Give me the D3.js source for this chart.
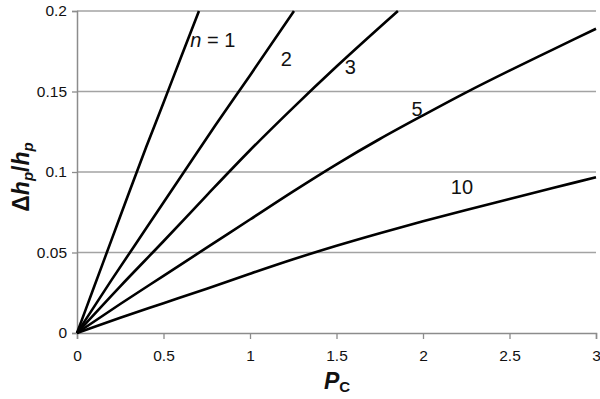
<!DOCTYPE html>
<html>
<head>
<meta charset="utf-8">
<script src="https://cdn.jsdelivr.net/npm/d3@7"></script>
<style>
  body { margin: 0; background: #fff; }
  svg { display: block; font-family: "Liberation Sans", Arial, sans-serif; }
</style>
</head>
<body>
<svg id="chart" width="600" height="399"></svg>
<script>
// values (P_C vs Δh_p/h_p)
const pN1 = [0, 0.1, 0.2, 0.3, 0.4, 0.5, 0.6, 0.705];
const vN1 = [0, 0.029, 0.058, 0.087, 0.1155, 0.143, 0.171, 0.2];

const pN2 = [0, 0.2, 0.4, 0.6, 0.8, 1.0, 1.254];
const vN2 = [0, 0.033, 0.065, 0.097, 0.129, 0.160, 0.2];

const pN3 = [0, 0.25, 0.5, 0.75, 1.0, 1.25, 1.5, 1.855];
const vN3 = [0, 0.029, 0.057, 0.0855, 0.1135, 0.140, 0.1655, 0.2];

const pGrid = [0, 0.25, 0.5, 0.75, 1.0, 1.25, 1.5, 1.75, 2.0, 2.25, 2.5, 2.75, 3.0];
const vN5 = [0, 0.018, 0.0355, 0.053, 0.0705, 0.088, 0.1048, 0.1205, 0.1352, 0.1495, 0.163, 0.176, 0.189];
const vN10 = [0, 0.0095, 0.0185, 0.0275, 0.0368, 0.0458, 0.0542, 0.062, 0.0694, 0.0764, 0.0832, 0.09, 0.0968];

const seriesNames = ['1', '2', '3', '5', '10'];
const xTicks = [0, 0.5, 1, 1.5, 2, 2.5, 3];
const yTicks = [0, 0.05, 0.1, 0.15, 0.2];

const zip = (xs, ys) => xs.map((x, i) => ({ x: x, y: ys[i] }));
const series = [
  zip(pN1, vN1),
  zip(pN2, vN2),
  zip(pN3, vN3),
  zip(pGrid, vN5),
  zip(pGrid, vN10)
];

const svg = d3.select('#chart');
const x = d3.scaleLinear().domain([0, 3]).range([77, 596]);
const y = d3.scaleLinear().domain([0, 0.2]).range([333, 11]);

// horizontal gridlines
svg.append('g')
  .selectAll('line')
  .data(yTicks.filter(d => d > 0))
  .enter()
  .append('line')
  .attr('x1', x(0))
  .attr('x2', x(3))
  .attr('y1', d => y(d))
  .attr('y2', d => y(d))
  .attr('stroke', '#a3a3a3')
  .attr('stroke-width', 1.3);

// axes
const xAxis = svg.append('g')
  .attr('transform', `translate(0,${y(0)})`)
  .call(d3.axisBottom(x).tickValues(xTicks).tickSize(6).tickPadding(11).tickFormat(d3.format('')));
const yAxis = svg.append('g')
  .attr('transform', `translate(${x(0)},0)`)
  .call(d3.axisLeft(y).tickValues(yTicks).tickSize(5).tickPadding(5).tickFormat(d3.format('')));

[xAxis, yAxis].forEach(a => {
  a.attr('font-family', null).attr('font-size', null);
  a.select('.domain').attr('stroke', '#8c8c8c').attr('stroke-width', 1.5);
  a.selectAll('.tick line').attr('stroke', '#8c8c8c').attr('stroke-width', 1.3);
  a.selectAll('.tick text').attr('fill', '#111').style('font-size', '15.5px');
});

// curves
const line = d3.line().x(d => x(d.x)).y(d => y(d.y)).curve(d3.curveMonotoneX);
svg.append('g')
  .selectAll('path')
  .data(series)
  .enter()
  .append('path')
  .attr('d', line)
  .attr('fill', 'none')
  .attr('stroke', '#000')
  .attr('stroke-width', 2.6)
  .attr('stroke-linejoin', 'round');

// curve labels
const labelPos = [
  { x: 0.655, y: 0.1775, anchor: 'start' },
  { x: 1.21, y: 0.166 },
  { x: 1.58, y: 0.161 },
  { x: 1.965, y: 0.1345 },
  { x: 2.225, y: 0.0865 }
];
const labels = svg.append('g').style('font-size', '20px').attr('fill', '#111');
labelPos.forEach((p, i) => {
  const t = labels.append('text')
    .attr('x', x(p.x))
    .attr('y', y(p.y))
    .attr('text-anchor', p.anchor || 'middle');
  if (i === 0) {
    t.append('tspan').style('font-style', 'italic').text('n');
    t.append('tspan').text(' = ' + seriesNames[i]);
  } else {
    t.text(seriesNames[i]);
  }
});

// axis titles
const xt = svg.append('text')
  .attr('x', 337)
  .attr('y', 389)
  .attr('text-anchor', 'middle')
  .attr('font-weight', 'bold')
  .attr('fill', '#111');
xt.append('tspan').style('font-size', '23px').style('font-style', 'italic').text('P');
xt.append('tspan').style('font-size', '15px').attr('dy', 3).text('C');

const yt = svg.append('text')
  .attr('transform', 'translate(29,177) rotate(-90)')
  .attr('text-anchor', 'middle')
  .attr('font-weight', 'bold')
  .attr('fill', '#111')
  .style('font-size', '23px');
yt.append('tspan').text('Δ');
yt.append('tspan').style('font-style', 'italic').text('h');
yt.append('tspan').style('font-style', 'italic').style('font-size', '15px').attr('dy', 4).text('p');
yt.append('tspan').attr('dy', -4).text('/');
yt.append('tspan').style('font-style', 'italic').text('h');
yt.append('tspan').style('font-style', 'italic').style('font-size', '15px').attr('dy', 4).text('p');
</script>
</body>
</html>
